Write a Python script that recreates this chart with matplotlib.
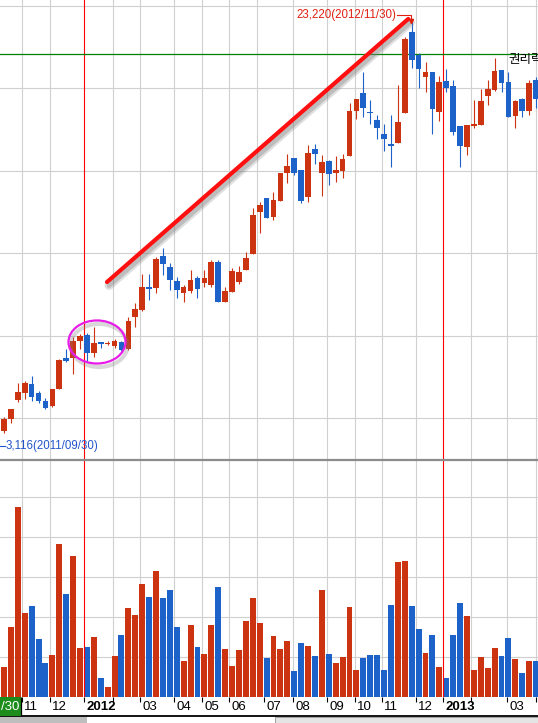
import numpy as np
import matplotlib
matplotlib.use('Agg')
import matplotlib.pyplot as plt
import matplotlib.patheffects as pe
from matplotlib.patches import Ellipse, Rectangle
from matplotlib.lines import Line2D

plt.rcParams['font.family'] = ['Liberation Sans', 'Noto Sans CJK KR', 'DejaVu Sans']

# 주봉 데이터 (2011/10/07 ~ 2013/03)
opens = [3520, 3370, 3950, 4870, 5210, 5650, 5210, 4830, 4580, 5410,
         6910, 6910, 7740, 8030, 7160, 7690, 7590, 7500, 7690, 7350,
         8900, 9240, 10360, 10310, 11860, 11330, 10650, 10070, 10170, 10800,
         10550, 10460, 11570, 9630, 10120, 10600, 11180, 11960, 14000, 14680,
         13760, 14530, 15890, 16620, 16040, 14730, 17060, 15890, 16480, 15890,
         15990, 16720, 18900, 19780, 18850, 18470, 17790, 17300, 17350, 18810,
         22740, 21620, 20550, 20800, 18850, 20360, 20120, 18170, 17160, 18170,
         18220, 19630, 19920, 20890, 20310, 18660, 19490, 18900, 20410]
highs = [4490, 4050, 4440, 5700, 5800, 6040, 5310, 4970, 5410, 6860,
         7350, 7930, 8080, 8130, 8420, 7690, 7740, 7840, 7740, 8900,
         9580, 10990, 10990, 11820, 12250, 11520, 10840, 10460, 11180, 10890,
         11180, 11670, 11670, 10360, 11280, 11380, 12060, 14190, 14490, 14680,
         14970, 15890, 16820, 16620, 16040, 17250, 17300, 16770, 16520, 16720,
         16820, 19290, 19490, 20800, 19440, 18710, 18270, 18710, 20160, 22490,
         23220, 21720, 21280, 20800, 20600, 20940, 20410, 18170, 18220, 19440,
         19970, 20410, 21480, 20890, 20800, 19440, 19530, 20410, 20550]
lows = [3270, 3270, 3760, 4780, 4920, 4830, 4730, 4440, 4530, 5410,
        6720, 6140, 7350, 6720, 6960, 7400, 7540, 7400, 7250, 7300,
        8420, 9190, 9730, 10070, 10940, 10210, 9830, 9630, 10070, 9830,
        10360, 10360, 9630, 9630, 10120, 10510, 11180, 11960, 12980, 13710,
        13610, 14530, 15410, 15800, 14440, 14490, 16330, 14780, 15310, 15460,
        15650, 16720, 18510, 18610, 18270, 17540, 16960, 16180, 17350, 18810,
        20990, 20020, 19820, 17790, 18420, 19820, 17740, 16180, 16770, 18080,
        18220, 19190, 19870, 19820, 18610, 18080, 18610, 18710, 19050]
closes = [4290, 3950, 4440, 5260, 5700, 5020, 4830, 4490, 5410, 6820,
          6770, 7740, 7980, 7160, 7640, 7590, 7640, 7740, 7300, 8710,
          9290, 10360, 10260, 11720, 11480, 10700, 10210, 10360, 10700, 10260,
          10800, 11570, 9630, 10170, 11140, 11090, 11770, 13850, 14340, 13710,
          14580, 15890, 16230, 15890, 14530, 16860, 16820, 16430, 15840, 16040,
          16570, 18900, 19490, 19050, 18810, 18080, 17540, 17200, 18370, 22400,
          21380, 20940, 20800, 19000, 20310, 20020, 17880, 17200, 18220, 18270,
          19390, 19970, 20840, 20260, 18610, 19390, 18900, 20260, 19490]
# 거래량 (천주)
volume = [42, 75, 175, 475, 210, 228, 145, 85, 105, 383,
          258, 353, 123, 125, 150, 48, 25, 103, 155, 223,
          205, 283, 250, 315, 248, 268, 175, 90, 180, 125,
          108, 180, 275, 120, 78, 118, 190, 248, 185, 98,
          153, 120, 140, 65, 135, 128, 103, 268, 108, 85,
          100, 225, 68, 98, 105, 105, 68, 230, 338, 340,
          228, 170, 110, 155, 75, 48, 155, 235, 203, 68,
          100, 73, 123, 103, 148, 95, 60, 90, 90]

# 월 구분선 / 눈금 (주 인덱스 기준)
grid_x = [3.60, 7.66, 12.58, 16.77, 20.68, 25.60, 29.65, 33.56, 37.61,
          42.82, 47.74, 51.80, 55.70, 60.62, 64.53, 68.58, 73.80, 77.99]
tick_x = [3.60, 7.66, 12.58, 16.77, 20.68, 25.60, 29.65, 33.56, 38.63,
          42.82, 47.74, 51.80, 55.70, 60.62, 64.53, 68.58, 73.80, 77.99]
tick_labels = ['11', '12', '2012', '', '03', '04', '05', '06', '07',
               '08', '09', '10', '11', '12', '2013', '', '03', '04']
year_x = [12.58, 64.53]
rights_price = 21670
low_price = 3116
low_date = '2011/09/30'

UP = '#CC3311'
DOWN = '#1C62C8'
GRID = '#D0D0D0'

x = np.arange(len(opens))
o = np.array(opens)
c = np.array(closes)
col = [UP if cc >= oo else DOWN for oo, cc in zip(o, c)]

# 픽셀 -> 주 인덱스 변환
X0, DX = -2.91, 6.91
xlim = ((0 - X0) / DX, (538 - X0) / DX)

fig = plt.figure(figsize=(5.38, 7.23), dpi=100)
H = 723.0

# 가격 차트
ax = fig.add_axes([0, (H - 459) / H, 1, 459 / H])
ax.set_xlim(*xlim)
ax.set_ylim(2010, 24290)
ax.axis('off')
for yv in range(4000, 24001, 4000):
    ax.axhline(yv, color=GRID, lw=0.8, zorder=0)
for gx in grid_x:
    if gx not in year_x:
        ax.axvline(gx, color=GRID, lw=0.8, zorder=0)
for yx in year_x:
    ax.axvline(yx, color='#FF0000', lw=0.8, zorder=1)
ax.axhline(rights_price, color='#008000', lw=0.9, zorder=1)

ax.vlines(x, lows, highs, colors=col, lw=0.8, zorder=2)
body = np.maximum(np.abs(c - o), 50)
ax.bar(x, body, bottom=np.minimum(o, c), width=0.82, color=col, zorder=3)

# 추세선 (그림자 포함)
shadow = [pe.SimpleLineShadow(offset=(1.5, -2.5), shadow_color='#808080', alpha=0.25, linewidth=6.5),
          pe.SimpleLineShadow(offset=(1.5, -2.5), shadow_color='#808080', alpha=0.35, linewidth=3.5),
          pe.Normal()]
ax.plot([15.9, 59.5], [10600, 23370], color='#FF1010', lw=3.0, zorder=5,
        solid_capstyle='round', path_effects=shadow)
# 박스권 표시
ell = Ellipse((14.46, 7690), width=8.25, height=2090, fill=False,
              edgecolor='#E81CE8', lw=1.6, zorder=6,
              path_effects=[pe.SimpleLineShadow(offset=(1.5, -2.5), shadow_color='#808080',
                                                alpha=0.3, linewidth=3),
                            pe.Normal()])
ax.add_patch(ell)

# 최고가 / 최저가 표시
hi = int(np.argmax(highs))
ax.text(hi - 2.2, highs[hi] + 340, f'{highs[hi]:,}(2012/11/30)', color='#E02010',
        fontsize=8.3, ha='right', va='center', zorder=7)
ax.plot([hi - 2.1, hi - 0.1, hi - 0.1], [highs[hi] + 340] * 2 + [highs[hi] + 60],
        color='#E02010', lw=0.8, zorder=7)
ax.plot([hi - 0.1], [highs[hi] + 60], marker='v', ms=3, color='#E02010', zorder=7)
ax.plot([xlim[0], 1.15], [2640, 2640], color='#2255CC', lw=0.8, clip_on=False)
ax.text(1.2, 2640, f'{low_price:,}({low_date})', color='#2255CC', fontsize=8.3,
        ha='left', va='center')
ax.text(73.94, 21420, '권리락', fontsize=9, ha='left', va='center',
        family=['Noto Sans CJK KR', 'DejaVu Sans'])

# 구분선
fig.add_artist(Line2D([0, 1], [(H - 459.5) / H] * 2, color='#8C8C8C', lw=1.6))

# 거래량 차트
vax = fig.add_axes([0, 26 / H, 1, 237 / H])
vax.set_xlim(*xlim)
vax.set_ylim(0, 592.5)
vax.axis('off')
for yv in range(100, 501, 100):
    vax.axhline(yv, color=GRID, lw=0.8, zorder=0)
for gx in grid_x:
    if gx not in year_x:
        vax.axvline(gx, color=GRID, lw=0.8, zorder=0)
for yx in year_x:
    vax.axvline(yx, color='#FF0000', lw=0.8, zorder=3)
vax.bar(x, volume, width=0.86, color=col, zorder=2)

# 날짜 축
bax = fig.add_axes([0, 0, 1, 26 / H])
bax.set_xlim(*xlim)
bax.set_ylim(723, 697)
bax.axis('off')
bax.vlines(tick_x, 697, 702, colors='black', lw=0.8)
for tx, lab in zip(tick_x, tick_labels):
    if lab:
        bax.text(tx + 0.3, 707.5, lab, fontsize=9.5, ha='left', va='center',
                 weight='bold' if len(lab) == 4 else 'normal')
px = lambda v: (v - X0) / DX
bax.add_patch(Rectangle((xlim[0], 697), px(21) - xlim[0], 19.5, fc='#1C8C1C', ec='none', zorder=4))
bax.vlines([px(21)], 697, 716, colors='black', lw=0.9, zorder=5)
bax.text(px(19), 707.5, '/30', color='white', fontsize=9.5, ha='right', va='center', zorder=5)
bax.axhline(716.5, color='black', lw=1.3)
bax.add_patch(Rectangle((xlim[0], 717.5), px(87) - xlim[0], 6, fc='#BEBEBE', ec='none'))
bax.add_patch(Rectangle((px(275), 717.5), xlim[1] - px(275), 6, fc='#E4E4E4', ec='#A0A0A0', lw=0.7))

fig.savefig('out.png', dpi=100, facecolor='white')
